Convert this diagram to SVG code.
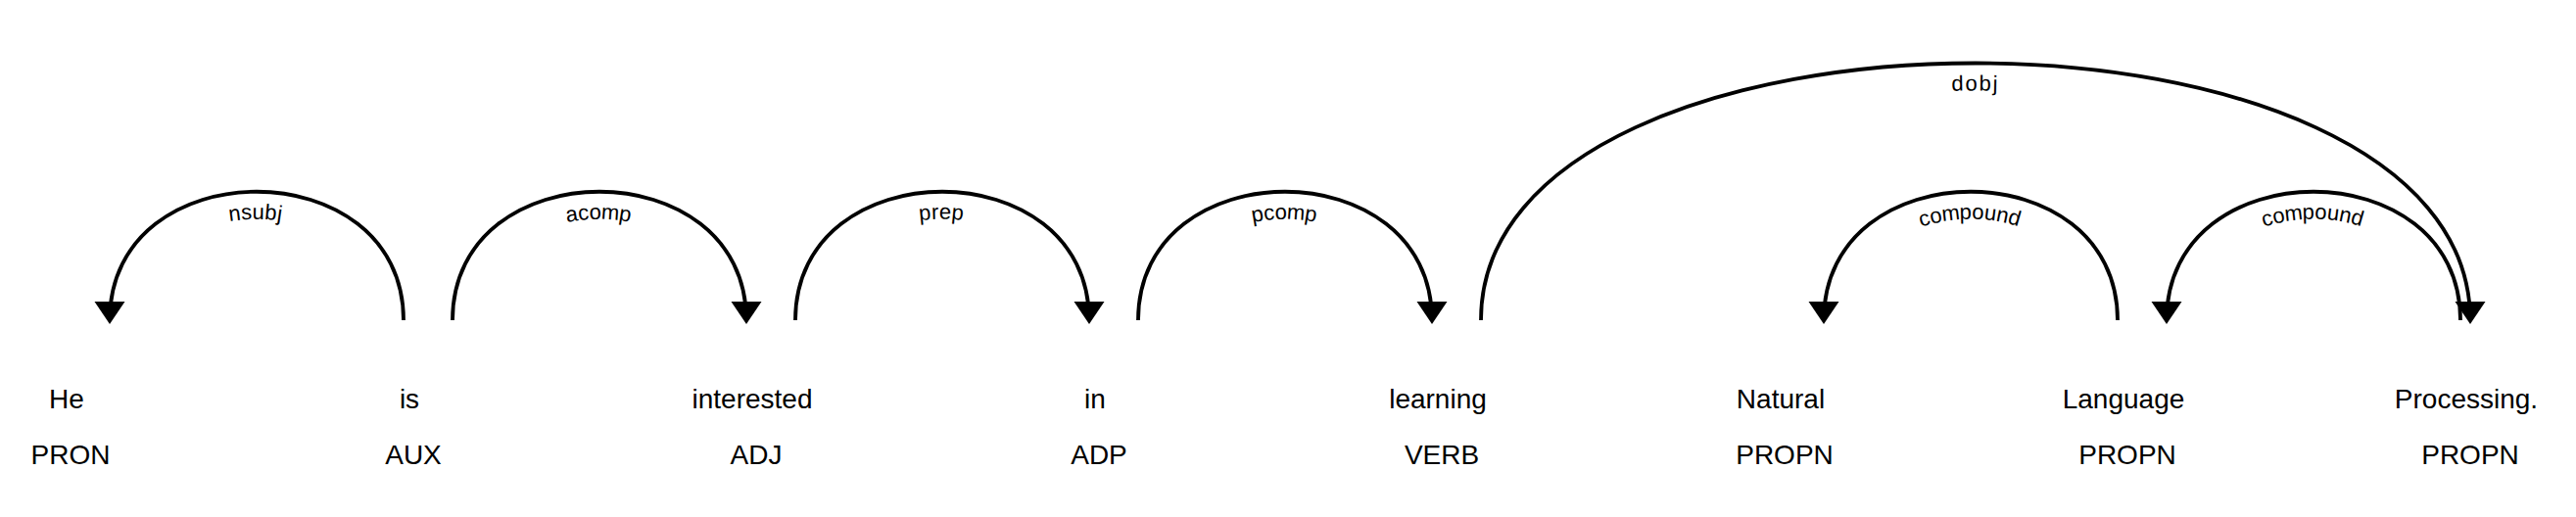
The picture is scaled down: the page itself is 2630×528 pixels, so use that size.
<svg xmlns="http://www.w3.org/2000/svg" xmlns:xlink="http://www.w3.org/1999/xlink" width="2630" height="528" viewBox="0 0 2630 528">
<style>
.arc{fill:none;stroke:#000;stroke-width:3.8}
.head{fill:#000}
.lbl{font-family:"Liberation Sans",Arial,sans-serif;font-size:22px;letter-spacing:2px;fill:#000}
.word,.tag{font-family:"Liberation Sans",Arial,sans-serif;font-size:28px;fill:#000;text-anchor:middle}
</style>
<defs>
<path id="p1" d="M112,327 C112,152 412,152 412,327"/>
<path id="p2" d="M462,327 C462,152 762,152 762,327"/>
<path id="p3" d="M812,327 C812,152 1112,152 1112,327"/>
<path id="p4" d="M1162,327 C1162,152 1462,152 1462,327"/>
<path id="p5" d="M1512,327 C1512,-23 2522,-23 2522,327"/>
<path id="p6" d="M1862,327 C1862,152 2162,152 2162,327"/>
<path id="p7" d="M2212,327 C2212,152 2512,152 2512,327"/>
</defs>
<rect width="2630" height="528" fill="#fff"/>
<g id="connectors">
<g id="arc-nsubj"><use xlink:href="#p1" class="arc"/><text dy="28" class="lbl"><textPath xlink:href="#p1" startOffset="50%" text-anchor="middle">nsubj</textPath></text><path class="head" d="M112,331 L96.5,308 L127.5,308 Z"/></g>
<g id="arc-acomp"><use xlink:href="#p2" class="arc"/><text dy="28" class="lbl"><textPath xlink:href="#p2" startOffset="50%" text-anchor="middle">acomp</textPath></text><path class="head" d="M762,331 L746.5,308 L777.5,308 Z"/></g>
<g id="arc-prep"><use xlink:href="#p3" class="arc"/><text dy="28" class="lbl"><textPath xlink:href="#p3" startOffset="50%" text-anchor="middle">prep</textPath></text><path class="head" d="M1112,331 L1096.5,308 L1127.5,308 Z"/></g>
<g id="arc-pcomp"><use xlink:href="#p4" class="arc"/><text dy="28" class="lbl"><textPath xlink:href="#p4" startOffset="50%" text-anchor="middle">pcomp</textPath></text><path class="head" d="M1462,331 L1446.5,308 L1477.5,308 Z"/></g>
<g id="arc-dobj"><use xlink:href="#p5" class="arc"/><text dy="28" class="lbl"><textPath xlink:href="#p5" startOffset="50%" text-anchor="middle">dobj</textPath></text><path class="head" d="M2522,331 L2506.5,308 L2537.5,308 Z"/></g>
<g id="arc-compound1"><use xlink:href="#p6" class="arc"/><text dy="28" class="lbl"><textPath xlink:href="#p6" startOffset="50%" text-anchor="middle">compound</textPath></text><path class="head" d="M1862,331 L1846.5,308 L1877.5,308 Z"/></g>
<g id="arc-compound2"><use xlink:href="#p7" class="arc"/><text dy="28" class="lbl"><textPath xlink:href="#p7" startOffset="50%" text-anchor="middle">compound</textPath></text><path class="head" d="M2212,331 L2196.5,308 L2227.5,308 Z"/></g>
</g>
<g id="w0"><text class="word" x="68" y="417">He</text><text class="tag" x="72" y="474">PRON</text></g>
<g id="w1"><text class="word" x="418" y="417">is</text><text class="tag" x="422" y="474">AUX</text></g>
<g id="w2"><text class="word" x="768" y="417">interested</text><text class="tag" x="772" y="474">ADJ</text></g>
<g id="w3"><text class="word" x="1118" y="417">in</text><text class="tag" x="1122" y="474">ADP</text></g>
<g id="w4"><text class="word" x="1468" y="417">learning</text><text class="tag" x="1472" y="474">VERB</text></g>
<g id="w5"><text class="word" x="1818" y="417">Natural</text><text class="tag" x="1822" y="474">PROPN</text></g>
<g id="w6"><text class="word" x="2168" y="417">Language</text><text class="tag" x="2172" y="474">PROPN</text></g>
<g id="w7"><text class="word" x="2518" y="417">Processing.</text><text class="tag" x="2522" y="474">PROPN</text></g>
</svg>
